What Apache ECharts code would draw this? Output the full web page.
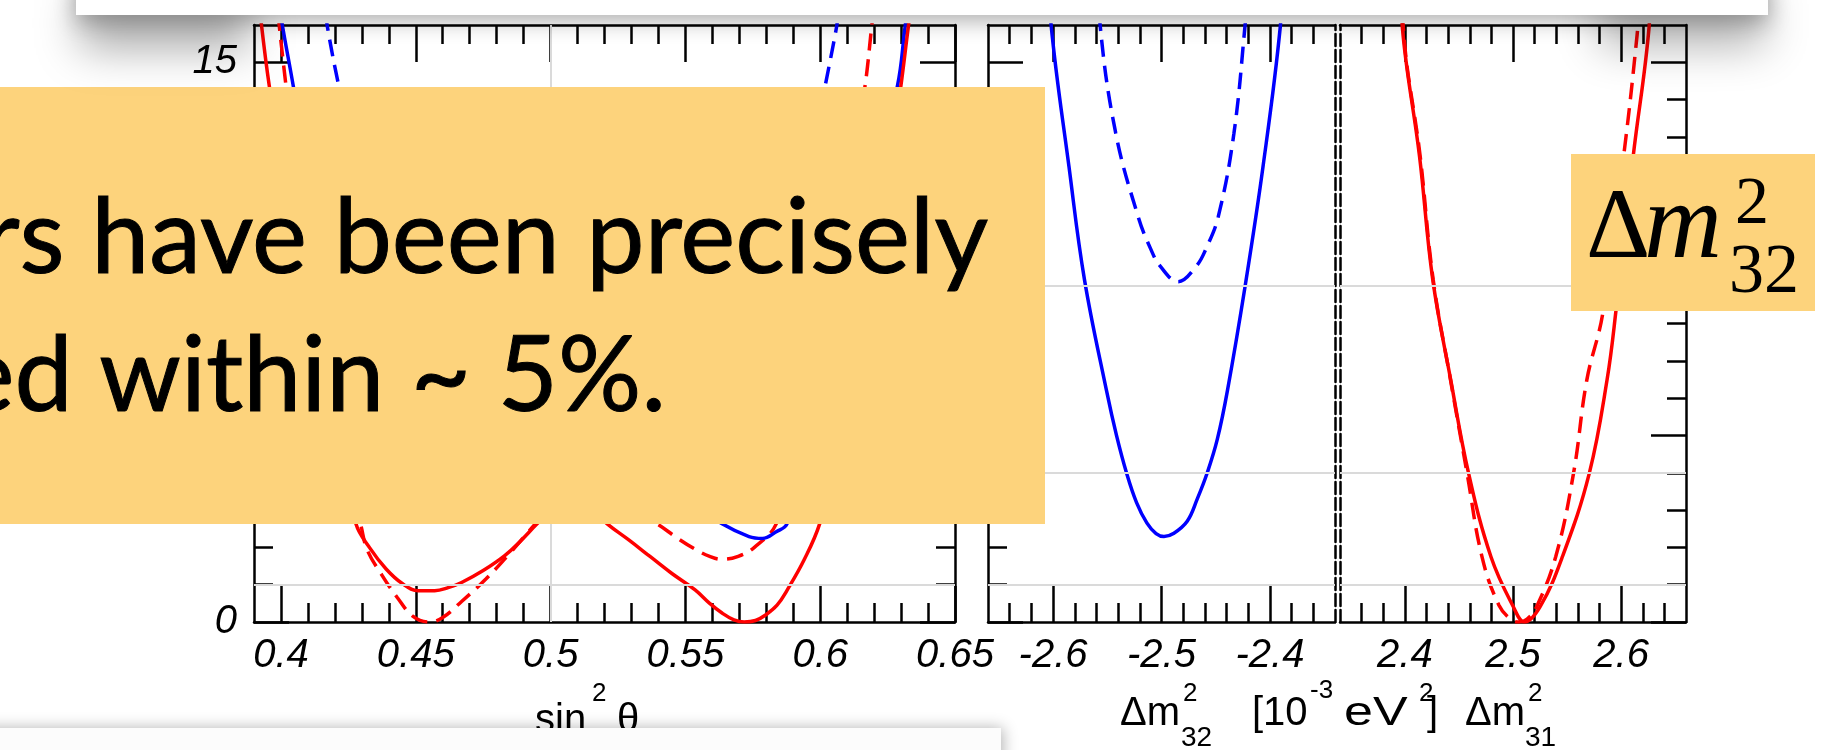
<!DOCTYPE html>
<html>
<head>
<meta charset="utf-8">
<script src="https://cdn.jsdelivr.net/npm/echarts@6/dist/echarts.min.js"></script>
<style>
html, body { margin: 0; padding: 0; background: #fff; }
#main { width: 1824px; height: 750px; }
</style>
</head>
<body>
<div id="main"></div>
<script>
// chi2 curves, [x, delta chi2]
var sinRedSolid = [[0.3923,16.3],[0.3957,14.35],[0.402,11.5],[0.41,8.4],[0.418,5.6],[0.4278,2.63],[0.433,1.98],[0.439,1.42],[0.445,1.03],[0.451,0.84],[0.457,0.84],[0.462,0.92],[0.467,1.06],[0.475,1.38],[0.483,1.78],[0.489,2.18],[0.495,2.63],[0.502,3.1],[0.508,3.3],[0.514,3.1],[0.521,2.63],[0.529,2.2],[0.537,1.75],[0.545,1.3],[0.5536,0.86],[0.559,0.5],[0.5636,0.24],[0.568,0.06],[0.5718,0],[0.576,0.04],[0.5796,0.18],[0.584,0.45],[0.5877,0.85],[0.594,1.66],[0.5998,2.63],[0.607,4.6],[0.614,7.0],[0.621,10.0],[0.626,12.4],[0.6299,14.35],[0.6327,15.96],[0.6334,16.3]];
var sinRedDash = [[0.399,16.3],[0.3994,15.96],[0.4015,14.6],[0.406,11.8],[0.412,8.8],[0.418,6.2],[0.4245,3.9],[0.4295,2.63],[0.432,1.93],[0.4375,1.25],[0.443,0.67],[0.449,0.15],[0.455,0],[0.46,0.12],[0.467,0.55],[0.476,1.15],[0.485,1.85],[0.494,2.6],[0.503,3.3],[0.51,3.6],[0.518,3.5],[0.53,3.0],[0.5395,2.63],[0.547,2.25],[0.5536,1.95],[0.559,1.76],[0.5636,1.68],[0.5696,1.76],[0.5756,2.0],[0.5837,2.63],[0.591,4.4],[0.598,6.8],[0.605,9.4],[0.611,11.8],[0.6166,14.35],[0.6191,15.96],[0.6196,16.3]];
var sinBlueSolid = [[0.4,16.3],[0.4006,15.96],[0.4046,14.35],[0.41,12.0],[0.418,9.2],[0.428,6.6],[0.44,4.9],[0.452,4.2],[0.462,4.3],[0.475,4.9],[0.49,5.7],[0.505,6.0],[0.52,5.3],[0.535,4.3],[0.55,3.3],[0.5636,2.63],[0.5736,2.29],[0.5786,2.24],[0.5837,2.42],[0.5877,2.63],[0.595,4.2],[0.603,6.6],[0.611,9.2],[0.619,11.7],[0.6286,14.35],[0.6315,15.96],[0.6322,16.3]];
var sinBlueDash = [[0.4168,16.3],[0.4172,15.96],[0.4215,14.35],[0.428,12.3],[0.437,10.6],[0.447,9.6],[0.457,9.3],[0.468,9.5],[0.482,10.2],[0.5,11.0],[0.52,10.6],[0.54,9.9],[0.558,9.3],[0.57,9.2],[0.58,9.6],[0.589,10.8],[0.5955,12.0],[0.6018,14.35],[0.6061,15.96],[0.6066,16.3]];

var dm32BlueSolid = [[-2.6022,16.3],[-2.6018,16.0],[-2.5853,12.2],[-2.571,9.17],[-2.5507,6.2],[-2.5415,5.0],[-2.5323,4.0],[-2.523,3.2],[-2.5134,2.65],[-2.505,2.37],[-2.4977,2.29],[-2.489,2.37],[-2.4763,2.7],[-2.467,3.3],[-2.4578,4.0],[-2.4485,4.9],[-2.4392,6.2],[-2.4229,9.0],[-2.4064,12.2],[-2.3903,16.0],[-2.3899,16.3]];
var dm32BlueDash = [[-2.557,16.3],[-2.5566,16.0],[-2.5422,13.1],[-2.5216,10.87],[-2.51,10.0],[-2.501,9.53],[-2.4846,9.12],[-2.4681,9.53],[-2.459,10.0],[-2.4476,10.87],[-2.4332,13.1],[-2.4229,16.0],[-2.4225,16.3]];

var dm31RedSolid = [[2.3972,16.3],[2.3976,15.96],[2.4136,12.47],[2.4258,9.17],[2.4424,6.49],[2.4589,3.99],[2.4796,1.75],[2.5003,0.41],[2.5106,0],[2.5251,0.41],[2.5457,1.75],[2.5706,3.99],[2.587,6.49],[2.5953,8.36],[2.6111,12.47],[2.6259,15.96],[2.6263,16.3]];
var dm31RedDash = [[2.3982,16.3],[2.3985,15.96],[2.4142,12.47],[2.4262,9.17],[2.4422,6.49],[2.4575,3.99],[2.4713,1.75],[2.487,0.45],[2.499,0.05],[2.506,0],[2.513,0.08],[2.5209,0.35],[2.5395,1.75],[2.556,3.99],[2.5683,6.49],[2.583,8.27],[2.6034,12.74],[2.6148,15.74],[2.616,16.3]];

// ticks
var sinMajor = [0.4, 0.45, 0.5, 0.55, 0.6, 0.65];
var sinMinor = [0.41,0.42,0.43,0.44,0.46,0.47,0.48,0.49,0.51,0.52,0.53,0.54,0.56,0.57,0.58,0.59,0.61,0.62,0.63,0.64];
var negMajor = [-2.6, -2.5, -2.4];
var negMinor = [-2.64,-2.62,-2.58,-2.56,-2.54,-2.52,-2.48,-2.46,-2.44,-2.42,-2.38,-2.36];
var posMajor = [2.4, 2.5, 2.6];
var posMinor = [2.36,2.38,2.42,2.44,2.46,2.48,2.52,2.54,2.56,2.58,2.62,2.64];
var chiMajor = [0, 5, 10, 15];
var chiMinor = [1,2,3,4,6,7,8,9,11,12,13,14];
var chiGrid = [1, 4, 9];

var black = { color: '#000', width: 2.5 };
var labelFont = { color: '#000', fontSize: 40, fontStyle: 'italic', fontFamily: 'Liberation Sans' };

function xAxes(gi, min, max, major, minor) {
    var base = { gridIndex: gi, type: 'value', min: min, max: max, splitLine: { show: false } };
    return [
        Object.assign({}, base, { position: 'bottom',
            axisLine: { show: true, onZero: false, lineStyle: black },
            axisTick: { show: true, inside: true, length: 36, customValues: major, lineStyle: black },
            axisLabel: Object.assign({ show: true, margin: 14, customValues: major }, labelFont) }),
        Object.assign({}, base, { position: 'bottom',
            axisLine: { show: false, onZero: false },
            axisTick: { show: true, inside: true, length: 19, customValues: minor, lineStyle: black },
            axisLabel: { show: false } }),
        Object.assign({}, base, { position: 'top',
            axisLine: { show: true, onZero: false, lineStyle: black },
            axisTick: { show: true, inside: true, length: 37, customValues: major, lineStyle: black },
            axisLabel: { show: false } }),
        Object.assign({}, base, { position: 'top',
            axisLine: { show: false, onZero: false },
            axisTick: { show: true, inside: true, length: 19, customValues: minor, lineStyle: black },
            axisLabel: { show: false } })
    ];
}

function yAxis(gi, pos, kind, labels) {
    var a = { gridIndex: gi, type: 'value', min: 0, max: 16, position: pos, splitLine: { show: false },
        axisLabel: { show: false } };
    if (kind === 'major') {
        a.axisLine = { show: true, onZero: false, lineStyle: black };
        a.axisTick = { show: true, inside: true, length: 35, customValues: chiMajor, lineStyle: black };
        if (labels) a.axisLabel = Object.assign({ show: true, margin: 17, customValues: chiMajor }, labelFont);
    } else if (kind === 'minor') {
        a.axisLine = { show: false, onZero: false };
        a.axisTick = { show: true, inside: true, length: 19, customValues: chiMinor, lineStyle: black };
    } else {
        a.axisLine = { show: true, onZero: false, lineStyle: { color: '#000', width: 2.5, type: [12, 4] } };
        a.axisTick = { show: false };
    }
    return a;
}

var xAxisList = [].concat(
    xAxes(0, 0.39, 0.65, sinMajor, sinMinor),
    xAxes(1, -2.66, -2.34, negMajor, negMinor),
    xAxes(2, 2.34, 2.66, posMajor, posMinor)
);
var yAxisList = [
    yAxis(0, 'left', 'major', true), yAxis(0, 'left', 'minor'),
    yAxis(0, 'right', 'major'), yAxis(0, 'right', 'minor'),
    yAxis(1, 'left', 'major'), yAxis(1, 'left', 'minor'), yAxis(1, 'right', 'dashed'),
    yAxis(2, 'left', 'dashed'), yAxis(2, 'right', 'major'), yAxis(2, 'right', 'minor')
];

function curve(data, color, dashed, xi, yi) {
    return {
        type: 'line', data: data, xAxisIndex: xi, yAxisIndex: yi,
        showSymbol: false, symbol: 'none', smooth: 0.4, silent: true, z: 3,
        lineStyle: { color: color, width: 3.5, type: dashed ? [17, 9] : 'solid' }
    };
}

function gridLines(xi, yi, extra) {
    var d = chiGrid.map(function (v) { return { yAxis: v }; });
    if (extra) d = d.concat(extra);
    return {
        type: 'line', data: [], xAxisIndex: xi, yAxisIndex: yi, z: 1, silent: true,
        markLine: { silent: true, symbol: 'none', label: { show: false },
            lineStyle: { color: '#dadada', width: 2, type: 'solid' }, data: d }
    };
}

function txt(text, x, y, size, opts) {
    opts = opts || {};
    var el = {
        type: 'text', x: x, y: y, z: opts.z || 120,
        style: {
            text: text, fill: '#000',
            font: (opts.italic ? 'italic ' : '') + size + 'px ' + (opts.family || '"Liberation Sans"'),
            textAlign: opts.align || 'left', textVerticalAlign: 'middle'
        }
    };
    if (opts.stroke) { el.style.stroke = '#000'; el.style.lineWidth = opts.stroke; }
    if (opts.scaleX) el.scaleX = opts.scaleX;
    return el;
}

var chart = echarts.init(document.getElementById('main'));
chart.setOption({
    animation: false,
    backgroundColor: '#fff',
    textStyle: { fontFamily: 'Liberation Sans' },
    grid: [
        { left: 254, top: 25, width: 701, height: 597, outerBoundsMode: 'none' },
        { left: 988, top: 25, width: 347, height: 597, outerBoundsMode: 'none' },
        { left: 1340, top: 25, width: 346, height: 597, outerBoundsMode: 'none' }
    ],
    xAxis: xAxisList,
    yAxis: yAxisList,
    series: [
        gridLines(0, 0, [{ xAxis: 0.5 }]),
        gridLines(4, 4),
        gridLines(8, 8),
        curve(sinBlueDash, '#0000ff', true, 0, 0),
        curve(sinRedDash, '#ff0000', true, 0, 0),
        curve(sinBlueSolid, '#0000ff', false, 0, 0),
        curve(sinRedSolid, '#ff0000', false, 0, 0),
        curve(dm32BlueDash, '#0000ff', true, 4, 4),
        curve(dm32BlueSolid, '#0000ff', false, 4, 4),
        curve(dm31RedDash, '#ff0000', true, 8, 8),
        curve(dm31RedSolid, '#ff0000', false, 8, 8)
    ],
    graphic: [
        // axis titles
        txt('sin', 535, 721, 40),
        txt('2', 592, 694, 26),
        txt('θ', 617, 721, 40),
        txt('23', 643, 740, 28),
        txt('Δm', 1120, 714, 40),
        txt('2', 1183, 694, 26),
        txt('32', 1181, 738, 28),
        txt('[10', 1252, 714, 40),
        txt('-3', 1310, 691, 26),
        txt('eV', 1344, 714, 40, { scaleX: 1.3 }),
        txt('2', 1419, 694, 26),
        txt(']', 1427, 714, 40),
        txt('Δm', 1465, 714, 40),
        txt('2', 1528, 694, 26),
        txt('31', 1525, 738, 28),
        // slide overlays
        { type: 'rect', z: 150, shape: { x: 0, y: 87, width: 1045, height: 437 }, style: { fill: '#fdd37c' } },
        txt('rs have been precisely', 988, 239, 104, { z: 151, align: 'right', family: 'Lato', stroke: 1 }),
        txt('ed within ~ 5%.', 666, 377, 104, { z: 151, align: 'right', family: 'Lato', stroke: 1 }),
        { type: 'rect', z: 150, shape: { x: 1571, y: 154, width: 244, height: 157 }, style: { fill: '#fdd37c' } },
        txt('Δ', 1586, 231, 100, { z: 151, family: '"Liberation Serif"' }),
        txt('m', 1644, 229, 108, { z: 151, italic: true, family: '"Liberation Serif"' }),
        txt('2', 1735, 205, 68, { z: 151, family: '"Liberation Serif"' }),
        txt('32', 1729, 274, 70, { z: 151, family: '"Liberation Serif"' }),
        // top card and its shadow
        { type: 'rect', z: 299, shape: { x: 80, y: -40, width: 170, height: 50 },
          style: { fill: '#000', shadowBlur: 44, shadowOffsetY: 38, shadowColor: 'rgba(0,0,0,0.34)' } },
        { type: 'rect', z: 299, shape: { x: 1600, y: -40, width: 165, height: 50 },
          style: { fill: '#000', shadowBlur: 44, shadowOffsetY: 36, shadowColor: 'rgba(0,0,0,0.3)' } },
        { type: 'rect', z: 300, shape: { x: 76, y: -40, width: 1692, height: 55 },
          style: { fill: '#fff', shadowBlur: 22, shadowOffsetY: 6, shadowColor: 'rgba(0,0,0,0.32)' } },
        // bottom card
        { type: 'rect', z: 300, shape: { x: -30, y: 728, width: 1031, height: 60 },
          style: { fill: '#fcfcfc', shadowBlur: 14, shadowOffsetX: 2, shadowColor: 'rgba(0,0,0,0.3)' } }
    ]
});
</script>
</body>
</html>
